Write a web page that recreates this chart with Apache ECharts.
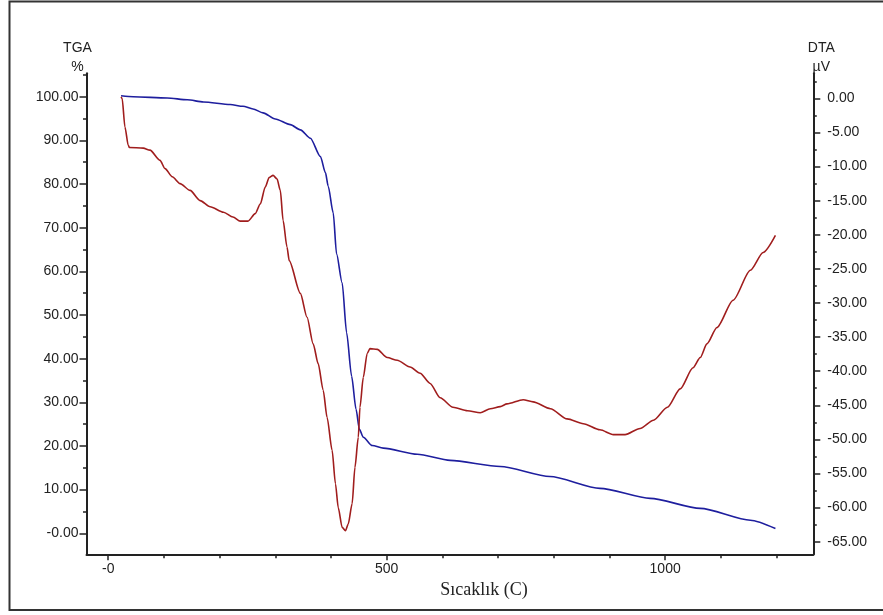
<!DOCTYPE html>
<html><head><meta charset="utf-8">
<script src="https://cdn.jsdelivr.net/npm/echarts@6/dist/echarts.min.js"></script>
<style>html,body{margin:0;padding:0;background:#fff}#c{width:883px;height:615px}</style>
</head><body><div id="c"></div>
<script>
const tgaTemp = [23, 45, 106, 142, 171, 219, 242, 260, 278, 300, 327, 345, 363, 381, 390, 395, 404, 410, 420, 428, 437, 445, 451, 458, 474, 494, 555, 614, 704, 793, 883, 973, 1063, 1153, 1198];
const tgaValue = [100.2, 100.0, 99.7, 99.3, 98.8, 98.2, 97.8, 97.2, 96.3, 94.9, 93.6, 92.4, 90.5, 86.3, 82.6, 79.5, 73.4, 64.0, 57.4, 46.0, 36.0, 28.4, 23.8, 22.0, 20.1, 19.5, 18.1, 16.7, 15.3, 13.0, 10.3, 8.0, 5.7, 3.0, 1.1];
const dtaTemp = [23, 25, 30, 36, 38, 63, 75, 93, 102, 115, 129, 147, 165, 183, 207, 224, 237, 251, 264, 273, 282, 289, 296, 303, 309, 314, 321, 325, 345, 357, 368, 377, 386, 393, 402, 408, 413, 420, 426, 431, 438, 443, 449, 452, 458, 465, 470, 483, 501, 519, 542, 560, 578, 596, 619, 645, 668, 686, 704, 716, 745, 763, 794, 824, 853, 883, 907, 928, 955, 979, 1004, 1027, 1050, 1063, 1075, 1093, 1122, 1153, 1176, 1198];
const dtaValue = [0.2, 0.0, -4.2, -6.9, -7.2, -7.3, -7.6, -9.1, -10.3, -11.5, -12.5, -13.5, -15.0, -15.9, -16.7, -17.4, -18.0, -18.0, -16.9, -15.5, -13.0, -11.6, -11.3, -11.8, -13.5, -17.9, -21.8, -23.8, -28.6, -32.1, -36.0, -38.9, -42.8, -46.8, -51.6, -56.5, -60.0, -62.9, -63.4, -62.4, -59.4, -54.1, -49.7, -45.3, -40.9, -37.4, -36.7, -36.8, -38.0, -38.4, -39.4, -40.3, -41.8, -43.9, -45.3, -45.8, -46.1, -45.5, -45.2, -44.8, -44.2, -44.5, -45.5, -47.0, -47.7, -48.6, -49.3, -49.3, -48.4, -47.2, -45.3, -42.6, -39.5, -38.0, -36.0, -33.6, -29.6, -25.2, -22.6, -20.1];

const xMajorTicks = [0, 500, 1000];
const xMinorTicks = [100, 200, 300, 400, 600, 700, 800, 900, 1100, 1200];
const tgaMajorTicks = [0, 10, 20, 30, 40, 50, 60, 70, 80, 90, 100];
const tgaMinorTicks = [5, 15, 25, 35, 45, 55, 65, 75, 85, 95, 105];
const dtaMajorTicks = [0, -5, -10, -15, -20, -25, -30, -35, -40, -45, -50, -55, -60, -65];
const dtaMinorTicks = [2.5, -2.5, -7.5, -12.5, -17.5, -22.5, -27.5, -32.5, -37.5, -42.5, -47.5, -52.5, -57.5, -62.5];

const AX = '#222';
const FONT = '"Liberation Sans", Arial, sans-serif';

const chart = echarts.init(document.getElementById('c'), null, {renderer: 'canvas'});
const zip = (a, b) => a.map((t, i) => [t, b[i]]);

chart.setOption({
  animation: false,
  backgroundColor: '#fff',
  textStyle: {fontFamily: FONT},
  grid: {left: 86.5, right: 69.7, top: 73.3, bottom: 60.7, containLabel: false},
  graphic: [{
    type: 'rect', silent: true,
    shape: {x: 9.5, y: 1.5, width: 900, height: 608.5},
    style: {fill: 'none', stroke: '#333', lineWidth: 2}
  }],
  xAxis: [{
    type: 'value', min: -39, max: 1266, position: 'bottom',
    axisLine: {onZero: false, lineStyle: {color: AX, width: 2}},
    axisTick: {show: true, customValues: xMajorTicks, length: 6, lineStyle: {color: AX, width: 1.5}},
    axisLabel: {customValues: xMajorTicks, margin: 8, color: '#222', fontSize: 14, fontFamily: FONT,
      formatter: v => (v === 0 ? '-0' : String(v))},
    splitLine: {show: false},
    name: 'Sıcaklık (C)', nameLocation: 'middle', nameGap: 18,
    nameTextStyle: {fontFamily: '"Liberation Serif", "Times New Roman", serif', fontSize: 18, color: '#222', padding: [0, 0, 0, 68]}
  }, {
    type: 'value', min: -39, max: 1266, position: 'bottom',
    axisLine: {show: false, onZero: false},
    axisTick: {show: true, customValues: xMinorTicks, length: 4, lineStyle: {color: AX, width: 1.5}},
    axisLabel: {show: false},
    splitLine: {show: false}
  }],
  yAxis: [{
    type: 'value', min: -4.81, max: 105.36, position: 'left',
    axisLine: {show: true, onZero: false, lineStyle: {color: AX, width: 2}},
    axisTick: {show: true, customValues: tgaMajorTicks, length: 7, lineStyle: {color: AX, width: 1.5}},
    axisLabel: {customValues: tgaMajorTicks, margin: 8, color: '#222', fontSize: 14, fontFamily: FONT,
      formatter: v => (v === 0 ? '-0.00' : v.toFixed(2))},
    splitLine: {show: false},
    name: 'TGA\n%', nameLocation: 'end', nameGap: -3,
    nameTextStyle: {color: '#222', fontSize: 14, lineHeight: 19, fontFamily: FONT, padding: [0, 18, 0, 0]}
  }, {
    type: 'value', min: -66.85, max: 3.67, position: 'right',
    axisLine: {show: true, onZero: false, lineStyle: {color: AX, width: 2}},
    axisTick: {show: true, customValues: dtaMajorTicks, length: 7, lineStyle: {color: AX, width: 1.5}},
    axisLabel: {customValues: dtaMajorTicks, margin: 14, color: '#222', fontSize: 14, fontFamily: FONT,
      formatter: v => v.toFixed(2)},
    splitLine: {show: false},
    name: 'DTA\nµV', nameLocation: 'end', nameGap: -3,
    nameTextStyle: {color: '#222', fontSize: 14, lineHeight: 19, fontFamily: FONT, padding: [0, 0, 0, 16]}
  }, {
    type: 'value', min: -4.81, max: 105.36, position: 'left',
    axisLine: {show: false, onZero: false},
    axisTick: {show: true, customValues: tgaMinorTicks, length: 3.5, lineStyle: {color: AX, width: 1.5}},
    axisLabel: {show: false},
    splitLine: {show: false}
  }, {
    type: 'value', min: -66.85, max: 3.67, position: 'right',
    axisLine: {show: false, onZero: false},
    axisTick: {show: true, customValues: dtaMinorTicks, length: 3.5, lineStyle: {color: AX, width: 1.5}},
    axisLabel: {show: false},
    splitLine: {show: false}
  }],
  series: [{
    name: 'TGA', type: 'line', xAxisIndex: 0, yAxisIndex: 0,
    data: zip(tgaTemp, tgaValue),
    showSymbol: false, smooth: 0.25, smoothMonotone: 'x',
    lineStyle: {color: '#1e1e9e', width: 1.6}, itemStyle: {color: '#1e1e9e'}
  }, {
    name: 'DTA', type: 'line', xAxisIndex: 0, yAxisIndex: 1,
    data: zip(dtaTemp, dtaValue),
    showSymbol: false, smooth: 0.25, smoothMonotone: 'x',
    lineStyle: {color: '#a01d1d', width: 1.6}, itemStyle: {color: '#a01d1d'}
  }]
});
</script>
</body></html>
